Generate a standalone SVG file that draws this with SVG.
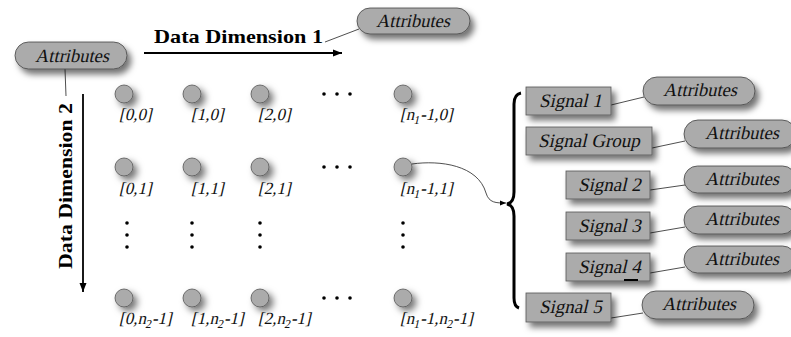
<svg xmlns="http://www.w3.org/2000/svg" width="791" height="337" viewBox="0 0 791 337">
<style>
.pill{fill:#ababab;stroke:#444;stroke-width:0.8}
.box{fill:#ababab;stroke:#555;stroke-width:0.8}
.node{fill:#ababab;stroke:#555;stroke-width:0.8}
.it{font-family:"Liberation Serif",serif;font-style:normal;fill:#111}
.lbl{font-size:17px}
.att{font-size:18.5px;text-anchor:middle}
.sig{font-size:19px}
.bold{font-family:"Liberation Serif",serif;font-weight:bold;font-size:19px;fill:#000}
.ln{stroke:#222;stroke-width:0.8;fill:none}
.dot{fill:#000}
</style>
<defs>
<filter id="sh" x="-30%" y="-30%" width="170%" height="190%">
<feDropShadow dx="4" dy="5" stdDeviation="3" flood-color="#000" flood-opacity="0.55"/>
</filter>
<filter id="shc" x="-60%" y="-60%" width="260%" height="260%">
<feDropShadow dx="4" dy="4" stdDeviation="3.5" flood-color="#000" flood-opacity="0.55"/>
</filter>
<marker id="ah" markerWidth="10" markerHeight="8" refX="9" refY="4" orient="auto" markerUnits="userSpaceOnUse">
<path d="M0,0.5 L9,4 L0,7.5 Z" fill="#000"/>
</marker>
<marker id="ahs" markerWidth="7" markerHeight="6" refX="6" refY="3" orient="auto" markerUnits="userSpaceOnUse">
<path d="M0,0.5 L6,3 L0,5.5 Z" fill="#000"/>
</marker>
</defs>

<g id="connectors">
<line x1="144" y1="53" x2="342" y2="53" stroke="#000" stroke-width="1.8" marker-end="url(#ah)"/>
<line x1="83" y1="94" x2="83" y2="292" stroke="#000" stroke-width="1.8" marker-end="url(#ah)"/>
<line class="ln" x1="325" y1="42" x2="359" y2="29"/>
<line class="ln" x1="65" y1="69" x2="66" y2="96"/>
<path class="ln" d="M412,164 C440,160 478,165 486,193 C489,203 496,203 506,203" marker-end="url(#ahs)"/>
<path d="M521,93 C516,94 514,98 514,104 L514,192 C514,199 512,203 507,204 C512,205 514,209 514,216 L514,298 C514,304 516,307 519,308" fill="none" stroke="#000" stroke-width="3"/>
<line class="ln" x1="611" y1="105" x2="644" y2="97"/>
<line class="ln" x1="652" y1="148" x2="685" y2="141"/>
<line class="ln" x1="650" y1="190" x2="685" y2="185"/>
<line class="ln" x1="650" y1="233" x2="685" y2="227"/>
<line class="ln" x1="650" y1="273" x2="685" y2="267"/>
<line class="ln" x1="611" y1="318" x2="643" y2="313"/>
</g>

<g id="axis1-label"><text class="bold" x="154" y="43" textLength="169" lengthAdjust="spacingAndGlyphs">Data Dimension 1</text></g>
<g id="axis2-label"><text class="bold" transform="translate(72,269) rotate(-90)" x="0" y="0" textLength="166" lengthAdjust="spacingAndGlyphs">Data Dimension 2</text></g>

<g id="attr-dim1"><rect class="pill" filter="url(#sh)" x="357" y="8" width="113" height="26" rx="13"/><text class="it att" transform="translate(413,27) skewX(-13)">Attributes</text></g>
<g id="attr-dim2"><rect class="pill" filter="url(#sh)" x="15" y="42" width="112" height="27" rx="13.5"/><text class="it att" transform="translate(72,62) skewX(-13)">Attributes</text></g>

<g id="n00"><circle class="node" filter="url(#shc)" cx="124" cy="94" r="9"/><text class="it lbl" transform="translate(119,120) skewX(-13)">[0,0]</text></g>
<g id="n10"><circle class="node" filter="url(#shc)" cx="192" cy="94" r="9"/><text class="it lbl" transform="translate(191,120) skewX(-13)">[1,0]</text></g>
<g id="n20"><circle class="node" filter="url(#shc)" cx="260" cy="94" r="9"/><text class="it lbl" transform="translate(258,120) skewX(-13)">[2,0]</text></g>
<g id="nN0"><circle class="node" filter="url(#shc)" cx="403" cy="94" r="9"/><text class="it lbl" transform="translate(400,120) skewX(-13)">[n<tspan font-size="12" dy="4">1</tspan><tspan dy="-4">-1,0]</tspan></text></g>

<g id="n01"><circle class="node" filter="url(#shc)" cx="124" cy="167" r="9"/><text class="it lbl" transform="translate(119,194) skewX(-13)">[0,1]</text></g>
<g id="n11"><circle class="node" filter="url(#shc)" cx="192" cy="167" r="9"/><text class="it lbl" transform="translate(191,194) skewX(-13)">[1,1]</text></g>
<g id="n21"><circle class="node" filter="url(#shc)" cx="260" cy="167" r="9"/><text class="it lbl" transform="translate(258,194) skewX(-13)">[2,1]</text></g>
<g id="nN1"><circle class="node" filter="url(#shc)" cx="403" cy="167" r="9"/><text class="it lbl" transform="translate(400,194) skewX(-13)">[n<tspan font-size="12" dy="4">1</tspan><tspan dy="-4">-1,1]</tspan></text></g>

<g id="n0M"><circle class="node" filter="url(#shc)" cx="124" cy="298" r="9"/><text class="it lbl" transform="translate(119,324) skewX(-13)">[0,n<tspan font-size="12" dy="4">2</tspan><tspan dy="-4">-1]</tspan></text></g>
<g id="n1M"><circle class="node" filter="url(#shc)" cx="192" cy="298" r="9"/><text class="it lbl" transform="translate(191,324) skewX(-13)">[1,n<tspan font-size="12" dy="4">2</tspan><tspan dy="-4">-1]</tspan></text></g>
<g id="n2M"><circle class="node" filter="url(#shc)" cx="260" cy="298" r="9"/><text class="it lbl" transform="translate(258,324) skewX(-13)">[2,n<tspan font-size="12" dy="4">2</tspan><tspan dy="-4">-1]</tspan></text></g>
<g id="nNM"><circle class="node" filter="url(#shc)" cx="403" cy="298" r="9"/><text class="it lbl" transform="translate(400,324) skewX(-13)">[n<tspan font-size="12" dy="4">1</tspan><tspan dy="-4">-1,n</tspan><tspan font-size="12" dy="4">2</tspan><tspan dy="-4">-1]</tspan></text></g>

<g id="ellipses">
<circle class="dot" cx="324" cy="94" r="1.8"/><circle class="dot" cx="337" cy="94" r="1.8"/><circle class="dot" cx="350" cy="94" r="1.8"/>
<circle class="dot" cx="324" cy="167" r="1.8"/><circle class="dot" cx="337" cy="167" r="1.8"/><circle class="dot" cx="350" cy="167" r="1.8"/>
<circle class="dot" cx="324" cy="298" r="1.8"/><circle class="dot" cx="337" cy="298" r="1.8"/><circle class="dot" cx="350" cy="298" r="1.8"/>
<circle class="dot" cx="127" cy="223" r="1.8"/><circle class="dot" cx="127" cy="235" r="1.8"/><circle class="dot" cx="127" cy="247" r="1.8"/>
<circle class="dot" cx="192" cy="223" r="1.8"/><circle class="dot" cx="192" cy="235" r="1.8"/><circle class="dot" cx="192" cy="247" r="1.8"/>
<circle class="dot" cx="260" cy="223" r="1.8"/><circle class="dot" cx="260" cy="235" r="1.8"/><circle class="dot" cx="260" cy="247" r="1.8"/>
<circle class="dot" cx="403" cy="223" r="1.8"/><circle class="dot" cx="403" cy="235" r="1.8"/><circle class="dot" cx="403" cy="247" r="1.8"/>
</g>

<g id="signal1"><rect class="box" filter="url(#sh)" x="526" y="87" width="85" height="28"/><text class="it sig" transform="translate(539,107) skewX(-13)">Signal 1</text></g>
<g id="signalgroup"><rect class="box" filter="url(#sh)" x="526" y="127" width="126" height="28"/><text class="it sig" transform="translate(538,147) skewX(-13)">Signal Group</text></g>
<g id="signal2"><rect class="box" filter="url(#sh)" x="566" y="171" width="84" height="28"/><text class="it sig" transform="translate(578,191) skewX(-13)">Signal 2</text></g>
<g id="signal3"><rect class="box" filter="url(#sh)" x="566" y="212" width="84" height="28"/><text class="it sig" transform="translate(578,232) skewX(-13)">Signal 3</text></g>
<g id="signal4"><rect class="box" filter="url(#sh)" x="566" y="253" width="84" height="28"/><text class="it sig" transform="translate(578,273) skewX(-13)">Signal 4</text><rect x="624" y="279" width="14" height="2" fill="#000"/></g>
<g id="signal5"><rect class="box" filter="url(#sh)" x="526" y="293" width="85" height="29"/><text class="it sig" transform="translate(539,313) skewX(-13)">Signal 5</text></g>

<g id="attr-s1"><rect class="pill" filter="url(#sh)" x="643" y="77" width="112" height="28" rx="14"/><text class="it att" transform="translate(700,96) skewX(-13)">Attributes</text></g>
<g id="attr-sg"><rect class="pill" filter="url(#sh)" x="684" y="120" width="112" height="28" rx="14"/><text class="it att" transform="translate(742,139) skewX(-13)">Attributes</text></g>
<g id="attr-s2"><rect class="pill" filter="url(#sh)" x="684" y="166" width="112" height="27" rx="13.5"/><text class="it att" transform="translate(742,185) skewX(-13)">Attributes</text></g>
<g id="attr-s3"><rect class="pill" filter="url(#sh)" x="684" y="206" width="112" height="28" rx="14"/><text class="it att" transform="translate(742,225) skewX(-13)">Attributes</text></g>
<g id="attr-s4"><rect class="pill" filter="url(#sh)" x="684" y="246" width="112" height="27" rx="13.5"/><text class="it att" transform="translate(742,265) skewX(-13)">Attributes</text></g>
<g id="attr-s5"><rect class="pill" filter="url(#sh)" x="642" y="291" width="112" height="28" rx="14"/><text class="it att" transform="translate(699,310) skewX(-13)">Attributes</text></g>
</svg>
